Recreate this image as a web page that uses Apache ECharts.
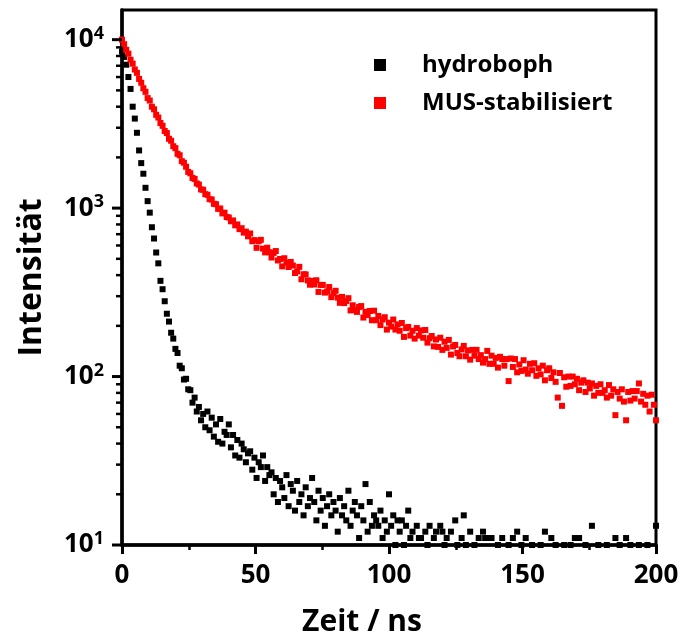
<!DOCTYPE html>
<html><head><meta charset="utf-8">
<script src="https://cdn.jsdelivr.net/npm/echarts@6.0.0/dist/echarts.min.js"></script>
<style>html,body{margin:0;padding:0;background:#fff}#c{width:684px;height:639px}</style>
</head><body><div id="c"></div>
<script>
const times = [
0,0.8,1.6,2.4,3.2,4,4.8,5.6,6.4,7.2,
8,8.8,9.6,10.4,11.2,12,12.8,13.6,14.4,15.2,
16,16.8,17.6,18.4,19.2,20,20.8,21.6,22.4,23.2,
24,24.8,25.6,26.4,27.2,28,28.8,29.6,30.4,31.2,
32,32.8,33.6,34.4,35.2,36,36.8,37.6,38.4,39.2,
40,40.8,41.6,42.4,43.2,44,44.8,45.6,46.4,47.2,
48,48.8,49.6,50.4,51.2,52,52.8,53.6,54.4,55.2,
56,56.8,57.6,58.4,59.2,60,60.8,61.6,62.4,63.2,
64,64.8,65.6,66.4,67.2,68,68.8,69.6,70.4,71.2,
72,72.8,73.6,74.4,75.2,76,76.8,77.6,78.4,79.2,
80,80.8,81.6,82.4,83.2,84,84.8,85.6,86.4,87.2,
88,88.8,89.6,90.4,91.2,92,92.8,93.6,94.4,95.2,
96,96.8,97.6,98.4,99.2,100,100.8,101.6,102.4,103.2,
104,104.8,105.6,106.4,107.2,108,108.8,109.6,110.4,111.2,
112,112.8,113.6,114.4,115.2,116,116.8,117.6,118.4,119.2,
120,120.8,121.6,122.4,123.2,124,124.8,125.6,126.4,127.2,
128,128.8,129.6,130.4,131.2,132,132.8,133.6,134.4,135.2,
136,136.8,137.6,138.4,139.2,140,140.8,141.6,142.4,143.2,
144,144.8,145.6,146.4,147.2,148,148.8,149.6,150.4,151.2,
152,152.8,153.6,154.4,155.2,156,156.8,157.6,158.4,159.2,
160,160.8,161.6,162.4,163.2,164,164.8,165.6,166.4,167.2,
168,168.8,169.6,170.4,171.2,172,172.8,173.6,174.4,175.2,
176,176.8,177.6,178.4,179.2,180,180.8,181.6,182.4,183.2,
184,184.8,185.6,186.4,187.2,188,188.8,189.6,190.4,191.2,
192,192.8,193.6,194.4,195.2,196,196.8,197.6,198.4,199.2,
200];

const hydroboph = [
8500,7900,7100,6000,5100,4000,3400,2800,2200,1850,
1600,1320,1100,940,770,660,545,470,370,330,
280,236,212,182,168,146,138,116,112,96,
97,84,83,70,75,62,66,55,60,50,
62,48,57,44,52,41,56,40,47,45,
52,38,45,34,42,33,40,37,31,35,
36,28,33,25,31,29,34,24,29,26,
27,20,25,18,24,22,19,26,17,23,
21,16,24,18,20,15,22,17,19,25,
18,14,21,16,19,13,17,20,15,18,
16,12,19,15,17,14,21,13,16,18,
15,11,17,14,23,12,18,13,15,14,
13,16,11,14,12,20,13,15,10,14,
12,14,10,13,16,11,12,9,13,11,
11,9,12,10,13,8,11,12,9,13,
12,10,11,8,12,9,14,10,8,11,
15,10,9,12,8,10,9,11,8,12,
11,11,9,11,8,9,10,8,11,9,
8,10,9,11,8,12,9,10,8,11,
9,8,10,7,9,8,10,9,12,8,
9,11,8,10,7,9,8,10,9,8,
10,9,11,8,11,9,8,10,7,9,
13,8,9,10,7,9,8,10,9,8,
9,11,8,10,9,8,11,9,10,8,
9,8,10,7,9,8,10,9,8,9,
13];

const musStabilisiert = [
10000,9400,8700,8250,7600,7200,6650,6350,5850,5550,
5150,4900,4500,4350,4000,3860,3580,3450,3200,3080,
2870,2790,2580,2510,2330,2270,2100,2060,1900,1860,
1760,1640,1610,1510,1490,1400,1380,1290,1285,1210,
1200,1130,1125,1060,1055,990,995,930,940,885,
880,835,845,790,800,750,760,715,725,680,
707,636,646,581,636,648,575,546,582,547,
509,542,556,489,499,451,504,475,447,479,
456,412,421,448,378,405,404,372,351,370,
352,373,318,350,350,315,320,340,296,313,
323,294,274,297,273,281,292,247,265,248,
242,259,262,224,242,232,245,216,246,216,
229,202,218,225,190,209,198,218,190,204,
187,208,172,194,197,175,187,168,194,175,
188,170,189,159,169,174,151,166,150,170,
144,161,148,165,135,151,154,138,132,145,
152,132,143,126,144,133,144,127,134,121,
127,142,119,133,119,129,113,131,127,116,
127,94,128,114,127,106,118,108,125,110,
104,119,109,120,101,112,103,116,95,109,
112,98,106,93,75,105,67,99,87,100,
88,100,90,97,83,92,95,81,92,85,
91,77,88,80,90,80,83,75,89,77,
84,59,81,74,84,71,55,81,72,82,
74,82,91,71,79,68,77,62,78,68,
55];

const seriesNames = ['hydroboph', 'MUS-stabilisiert'];
const xTickLabels = [0, 50, 100, 150, 200];
const yMajorTicks = [10, 100, 1000, 10000];
const yMinorTicks = [20,30,40,50,60,70,80,90,200,300,400,500,600,700,800,900,2000,3000,4000,5000,6000,7000,8000,9000];

const FONT = 'Open Sans';
const yMin = 10;

function toPairs(vals) {
  return times.map((t, i) => [t, vals[i]]).filter(d => d[1] >= yMin);
}

function tickRenderer(len, width) {
  return function (params, api) {
    const p = api.coord([api.value(0), api.value(1)]);
    return {
      type: 'line',
      shape: { x1: p[0] - len, y1: p[1], x2: p[0], y2: p[1] },
      style: { stroke: '#000', lineWidth: width }
    };
  };
}

const chart = echarts.init(document.getElementById('c'), null, { renderer: 'canvas' });
chart.setOption({
  animation: false,
  backgroundColor: '#fff',
  grid: { left: 122, right: 28, top: 10, bottom: 94, show: true, borderColor: '#000', borderWidth: 3, containLabel: false, outerBoundsMode: 'none' },
  legend: {
    orient: 'vertical', left: 369, top: 48,
    itemWidth: 12, itemHeight: 12, itemGap: 14, icon: 'rect',
    data: seriesNames,
    textStyle: { fontSize: 24, fontWeight: 'bold', fontFamily: FONT, color: '#000', padding: [0, 0, 0, 31] }
  },
  xAxis: {
    type: 'value', min: xTickLabels[0], max: xTickLabels[xTickLabels.length - 1], interval: 50,
    axisLine: { onZero: false, lineStyle: { color: '#000', width: 3.5 } },
    axisTick: { length: 9, lineStyle: { color: '#000', width: 3 } },
    minorTick: { show: true, splitNumber: 2, length: 5, lineStyle: { color: '#000', width: 2.5 } },
    splitLine: { show: false },
    axisLabel: { fontSize: 26, fontWeight: 'bold', fontFamily: FONT, color: '#000', margin: 18 },
    name: 'Zeit / ns', nameLocation: 'middle', nameGap: 62,
    nameTextStyle: { fontSize: 30, fontWeight: 'bold', fontFamily: FONT, color: '#000', padding: [0, 54, 0, 0] }
  },
  yAxis: {
    type: 'log', logBase: 10, min: yMin, max: 15000,
    axisLine: { onZero: false, lineStyle: { color: '#000', width: 3.5 } },
    axisTick: { show: false },
    splitLine: { show: false },
    axisLabel: {
      margin: 18,
      formatter: function (v) {
        const e = Math.log10(v);
        if (Math.abs(e - Math.round(e)) > 1e-6) return '';
        return '{a|10}{b|' + Math.round(e) + '}';
      },
      rich: {
        a: { fontSize: 26, fontWeight: 'bold', fontFamily: FONT, color: '#000', lineHeight: 30 },
        b: { fontSize: 18, fontWeight: 'bold', fontFamily: FONT, color: '#000', lineHeight: 18, verticalAlign: 'top' }
      }
    },
    name: 'Intensität', nameLocation: 'middle', nameGap: 74,
    nameTextStyle: { fontSize: 32, fontWeight: 'bold', fontFamily: FONT, color: '#000' }
  },
  series: [
    {
      type: 'scatter', name: seriesNames[0], data: toPairs(hydroboph),
      symbol: 'rect', symbolSize: 6, itemStyle: { color: '#000', opacity: 1 }, clip: false, silent: true, z: 3
    },
    {
      type: 'scatter', name: seriesNames[1], data: toPairs(musStabilisiert),
      symbol: 'rect', symbolSize: 6, itemStyle: { color: '#ff0000', opacity: 1 }, clip: false, silent: true, z: 4
    },
    {
      type: 'custom', name: 'yMajor', coordinateSystem: 'cartesian2d', silent: true, z: 10,
      data: yMajorTicks.map(v => [xTickLabels[0], v]), renderItem: tickRenderer(10, 3)
    },
    {
      type: 'custom', name: 'yMinor', coordinateSystem: 'cartesian2d', silent: true, z: 10,
      data: yMinorTicks.map(v => [xTickLabels[0], v]), renderItem: tickRenderer(6, 2.5)
    }
  ]
});
</script>
</body></html>
